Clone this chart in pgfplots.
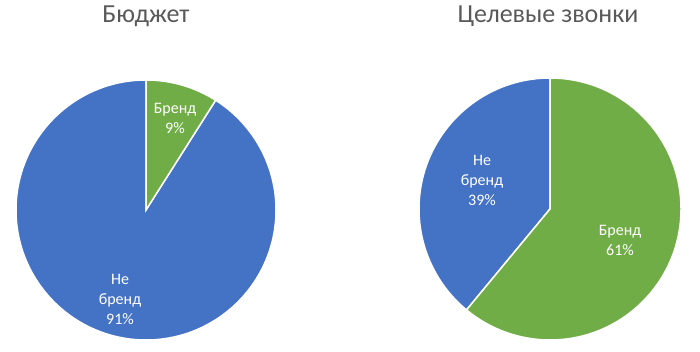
\documentclass[border=0pt]{standalone}
\usepackage{pgfplots}
\pgfplotsset{compat=1.18}
\usepackage{pgfplotstable}
\usepackage{fontspec}
\setmainfont{Carlito}
\definecolor{pieblue}{HTML}{4472C4}
\definecolor{piegreen}{HTML}{70AD47}
\definecolor{titlegray}{HTML}{595959}

% shares in percent: pie 1 = Бюджет, pie 2 = Целевые звонки
\pgfplotstableread{
pie brand nonbrand cx cy r
1 9 91 146 142 130
2 61 39 550 143 131
}\shares

\pgfplotstablegetelem{0}{brand}\of\shares \let\bA\pgfplotsretval
\pgfplotstablegetelem{1}{brand}\of\shares \let\bB\pgfplotsretval
\pgfplotstablegetelem{0}{nonbrand}\of\shares \let\nA\pgfplotsretval
\pgfplotstablegetelem{1}{nonbrand}\of\shares \let\nB\pgfplotsretval

\begin{document}
\begin{tikzpicture}
\begin{axis}[
  width=700pt, height=352pt, scale only axis,
  xmin=0, xmax=700, ymin=0, ymax=352,
  hide axis, clip=false,
]
\pgfmathsetmacro\endA{90-3.6*\bA}
\pgfmathsetmacro\endB{90-3.6*\bB}
% Pie 1
\fill[pieblue, draw=white, line width=1.5pt] (axis cs:146,142) -- (axis cs:146,272)
   arc[start angle=90, end angle={\endA-360}, radius=130] -- cycle;
\fill[piegreen, draw=white, line width=1.5pt] (axis cs:146,142) -- (axis cs:146,272)
   arc[start angle=90, end angle=\endA, radius=130] -- cycle;
% Pie 2
\fill[pieblue, draw=white, line width=1.5pt] (axis cs:550,143) -- (axis cs:550,274)
   arc[start angle=90, end angle={\endB+360}, radius=131] -- cycle;
\fill[piegreen, draw=white, line width=1.5pt] (axis cs:550,143) -- (axis cs:550,274)
   arc[start angle=90, end angle=\endB, radius=131] -- cycle;

% titles
\node[text=titlegray, font=\fontsize{26}{30}\selectfont] at (axis cs:146,336) {Бюджет};
\node[text=titlegray, font=\fontsize{26}{30}\selectfont] at (axis cs:548,336) {Целевые звонки};

% labels
\node[text=white, align=center, font=\fontsize{16}{20}\selectfont] at (axis cs:175,234) {Бренд\\\bA\%};
\node[text=white, align=center, font=\fontsize{16}{20}\selectfont] at (axis cs:120,53) {Не\\бренд\\\nA\%};
\node[text=white, align=center, font=\fontsize{16}{20}\selectfont] at (axis cs:482,172) {Не\\бренд\\\nB\%};
\node[text=white, align=center, font=\fontsize{16}{20}\selectfont] at (axis cs:620,112) {Бренд\\\bB\%};
\end{axis}
\pgfresetboundingbox
\path[use as bounding box] (current axis.south west) rectangle (current axis.north east);
\end{tikzpicture}
\end{document}
